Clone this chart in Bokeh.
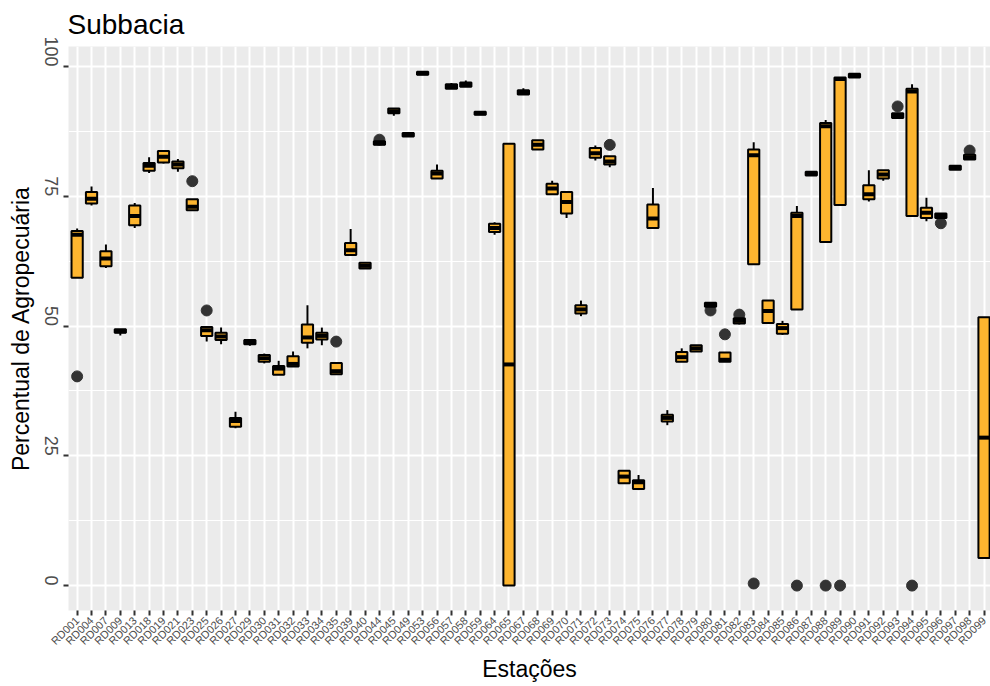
import math
from bokeh.plotting import figure
from bokeh.models import ColumnDataSource, FixedTicker, Range1d
from bokeh.embed import file_html
from bokeh.resources import INLINE

stations = ["RD001", "RD004", "RD007", "RD009", "RD013", "RD018", "RD019", "RD021",
            "RD023", "RD025", "RD026", "RD027", "RD029", "RD030", "RD031", "RD032",
            "RD033", "RD034", "RD035", "RD039", "RD040", "RD044", "RD045", "RD049",
            "RD053", "RD056", "RD057", "RD058", "RD059", "RD064", "RD065", "RD067",
            "RD068", "RD069", "RD070", "RD071", "RD072", "RD073", "RD074", "RD075",
            "RD076", "RD077", "RD078", "RD079", "RD080", "RD081", "RD082", "RD083",
            "RD084", "RD085", "RD086", "RD087", "RD088", "RD089", "RD090", "RD091",
            "RD092", "RD093", "RD094", "RD095", "RD096", "RD097", "RD098", "RD099"]

q1 = [59.3, 73.6, 61.5, 48.7, 69.4, 79.9, 81.5, 80.4, 72.3, 48.1, 47.3, 30.6, 46.5, 43.1, 40.6, 42.2,
      46.8, 47.4, 40.7, 63.7, 61.1, 84.9, 91.0, 86.5, 98.4, 78.4, 95.7, 96.1, 90.7, 68.1, 0.0, 94.6,
      84.0, 75.4, 71.7, 52.4, 82.4, 81.1, 19.7, 18.6, 68.9, 31.6, 43.1, 45.1, 53.7, 43.1, 50.5, 61.9,
      50.6, 48.5, 53.2, 79.0, 66.2, 73.3, 97.9, 74.4, 78.4, 90.1, 71.2, 70.8, 70.8, 80.1, 82.1, 5.3]
median = [67.6, 74.5, 63.0, 49.0, 71.2, 80.9, 82.6, 81.1, 73.0, 49.2, 48.0, 31.7, 46.9, 43.8, 41.8, 42.7,
          47.8, 48.1, 41.3, 64.6, 61.6, 85.2, 91.4, 86.8, 98.7, 79.4, 96.1, 96.5, 91.0, 68.9, 42.6, 95.0,
          84.9, 76.5, 73.9, 53.2, 83.3, 81.7, 21.0, 19.9, 70.7, 32.3, 44.0, 45.7, 54.1, 43.5, 51.0, 82.9,
          52.9, 49.6, 71.2, 79.4, 88.5, 97.6, 98.2, 75.4, 79.2, 90.5, 95.2, 71.8, 71.3, 80.5, 82.5, 28.5]
q3 = [68.3, 75.8, 64.4, 49.4, 73.2, 81.4, 83.7, 81.7, 74.4, 49.8, 48.7, 32.3, 47.3, 44.4, 42.3, 44.2,
      50.3, 48.7, 42.9, 66.0, 62.2, 85.6, 91.9, 87.2, 99.0, 79.9, 96.6, 96.9, 91.3, 69.7, 85.1, 95.4,
      85.8, 77.4, 75.8, 54.0, 84.3, 82.7, 22.1, 20.3, 73.4, 32.9, 45.0, 46.3, 54.5, 44.9, 51.5, 84.0,
      54.9, 50.4, 71.8, 79.7, 89.1, 97.9, 98.6, 77.1, 80.0, 91.0, 95.7, 72.8, 71.7, 80.9, 83.0, 51.7]
whisker_low = [59.3, 73.2, 61.2, 48.2, 68.9, 79.5, 81.3, 79.7, 72.3, 47.0, 46.5, 30.3, 46.2, 42.8, 40.6, 42.2,
               45.7, 46.3, 40.7, 63.7, 61.1, 84.9, 90.5, 86.5, 98.4, 78.4, 95.7, 96.1, 90.7, 67.6, 0.0, 94.6,
               84.0, 75.4, 70.8, 51.9, 81.9, 80.6, 19.7, 18.4, 68.9, 30.9, 43.1, 45.1, 53.7, 43.1, 50.3, 61.9,
               50.6, 48.3, 53.2, 79.0, 66.2, 73.3, 97.9, 74.0, 78.0, 90.1, 71.2, 70.2, 70.8, 80.1, 82.1, 5.3]
whisker_high = [68.8, 76.9, 65.7, 49.4, 73.7, 82.5, 83.9, 82.2, 74.4, 49.8, 49.7, 33.5, 47.3, 44.7, 43.3, 45.1,
                54.0, 49.7, 42.9, 68.7, 62.2, 85.6, 91.9, 87.2, 99.0, 81.1, 96.8, 97.3, 91.3, 70.0, 85.1, 95.8,
                85.8, 78.0, 75.8, 54.9, 84.8, 82.7, 22.1, 21.3, 76.6, 33.8, 45.7, 46.3, 54.5, 44.9, 51.5, 85.4,
                54.9, 51.0, 73.1, 79.7, 89.7, 97.9, 98.6, 80.0, 80.0, 91.0, 96.6, 74.7, 71.7, 80.9, 83.0, 51.7]

outlier_station = ["RD001", "RD023", "RD025", "RD035", "RD044", "RD073", "RD080", "RD081", "RD082",
                   "RD083", "RD086", "RD088", "RD089", "RD093", "RD094", "RD096", "RD098"]
outlier_value = [40.3, 77.9, 53.0, 47.0, 85.9, 84.9, 53.0, 48.4, 52.2,
                 0.4, 0.0, 0.0, 0.0, 92.3, 0.0, 69.8, 83.8]

y_ticks = [0, 25, 50, 75, 100]
y_minor = [12.5, 37.5, 62.5, 87.5]

FONT = "Liberation Sans"
FILL = "#FDB52F"
BOX_W = 0.78

pos = {s: i + 1 for i, s in enumerate(stations)}
xs = [pos[s] for s in stations]

box_src = ColumnDataSource(dict(
    x=xs, q1=q1, med=median, q3=q3, wlo=whisker_low, whi=whisker_high,
    x0=[x - BOX_W / 2 for x in xs], x1=[x + BOX_W / 2 for x in xs],
))
out_src = ColumnDataSource(dict(x=[pos[s] for s in outlier_station], y=outlier_value))

p = figure(width=990, height=686, output_backend="svg", toolbar_location=None,
           x_range=Range1d(0.4, 64.45), y_range=Range1d(-4.8, 103.85),
           min_border_left=68, min_border_right=0, min_border_top=45, min_border_bottom=76,
           background_fill_color="#EBEBEB", border_fill_color="white", outline_line_color=None)

p.title.text = "Subbacia"
p.title.text_font = FONT
p.title.text_font_size = "28px"
p.title.text_font_style = "normal"
p.title.text_color = "black"
p.title.standoff = 13
p.title.offset = -1

# grid
p.xaxis.ticker = FixedTicker(ticks=xs)
p.xaxis.major_label_overrides = {pos[s]: s for s in stations}
p.yaxis.ticker = FixedTicker(ticks=y_ticks, minor_ticks=y_minor)
p.xgrid.grid_line_color = "white"
p.xgrid.grid_line_width = 2
p.ygrid.grid_line_color = "white"
p.ygrid.grid_line_width = 2
p.ygrid.minor_grid_line_color = "white"
p.ygrid.minor_grid_line_width = 1

for ax in (p.xaxis, p.yaxis):
    ax.axis_line_color = None
    ax.major_tick_line_color = "#333333"
    ax.major_tick_line_width = 2
    ax.major_tick_out = 5
    ax.major_tick_in = 0
    ax.minor_tick_line_color = None
    ax.major_label_text_color = "#4D4D4D"
    ax.major_label_text_font = FONT
    ax.axis_label_text_font = FONT
    ax.axis_label_text_font_style = "normal"
    ax.axis_label_text_font_size = "23px"
    ax.axis_label_text_color = "black"

p.xaxis.axis_label = "Estações"
p.xaxis.major_label_text_font_size = "11px"
p.xaxis.major_label_orientation = math.pi / 4
p.xaxis.major_label_standoff = 3
p.xaxis.axis_label_standoff = 2

p.yaxis.axis_label = "Percentual de Agropecuária"
p.yaxis.major_label_text_font_size = "18px"
p.yaxis.major_label_orientation = -math.pi / 2
p.yaxis.major_label_standoff = 12
p.yaxis.axis_label_standoff = 2

# outliers (drawn first, under the boxes)
p.scatter("x", "y", source=out_src, size=11, fill_color="#333333", line_color="#333333")

# whiskers
p.segment(x0="x", y0="wlo", x1="x", y1="q1", source=box_src, line_color="black", line_width=2)
p.segment(x0="x", y0="q3", x1="x", y1="whi", source=box_src, line_color="black", line_width=2)

# boxes
p.vbar(x="x", width=BOX_W, bottom="q1", top="q3", source=box_src,
       fill_color=FILL, line_color="black", line_width=2)

# medians
p.segment(x0="x0", y0="med", x1="x1", y1="med", source=box_src, line_color="black", line_width=4)

open("out.html", "w").write(file_html(p, INLINE))
